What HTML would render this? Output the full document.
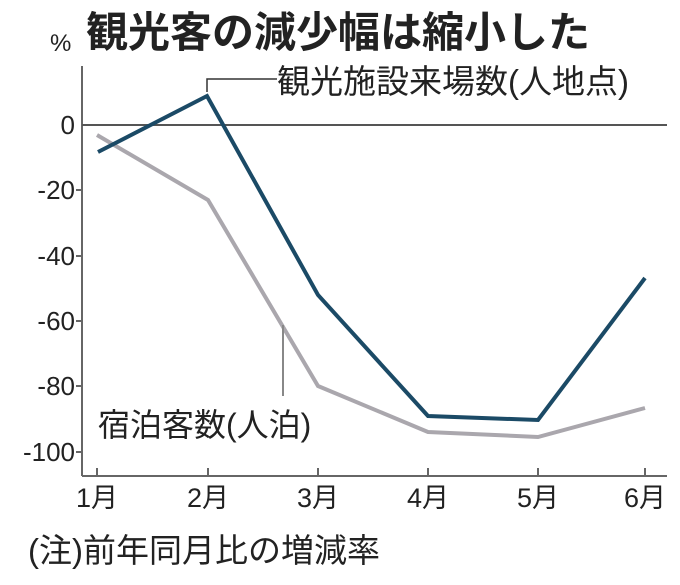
<!DOCTYPE html>
<html><head><meta charset="utf-8"><style>
html,body{margin:0;padding:0;background:#fff;}
svg{display:block;}
text{font-family:"Liberation Sans","Noto Sans CJK JP",sans-serif;fill:#222;}
</style></head><body>
<svg width="680" height="585" viewBox="0 0 680 585">
<text x="86" y="47" font-size="42" font-weight="bold" fill="#111">観光客の減少幅は縮小した</text>
<text x="50" y="51" font-size="24">%</text>
<line x1="82" y1="66" x2="82" y2="476" stroke="#666" stroke-width="2"/>
<line x1="82" y1="476" x2="667" y2="476" stroke="#666" stroke-width="2"/>
<line x1="82" y1="125" x2="667" y2="125" stroke="#555" stroke-width="2"/>
<g stroke="#666" stroke-width="2">
<line x1="76" y1="190" x2="82" y2="190"/><line x1="76" y1="256" x2="82" y2="256"/>
<line x1="76" y1="321" x2="82" y2="321"/><line x1="76" y1="386" x2="82" y2="386"/>
<line x1="76" y1="452" x2="82" y2="452"/>
<line x1="97" y1="468" x2="97" y2="476"/><line x1="208" y1="468" x2="208" y2="476"/>
<line x1="318" y1="468" x2="318" y2="476"/><line x1="428" y1="468" x2="428" y2="476"/>
<line x1="538" y1="468" x2="538" y2="476"/><line x1="645" y1="468" x2="645" y2="476"/>
</g>
<g font-size="26" text-anchor="end">
<text x="75" y="134">0</text><text x="75" y="199">-20</text><text x="75" y="265">-40</text>
<text x="75" y="330">-60</text><text x="75" y="395">-80</text><text x="75" y="461">-100</text>
</g>
<g font-size="27" text-anchor="middle">
<text x="97" y="507">1月</text><text x="208" y="507">2月</text><text x="318" y="507">3月</text>
<text x="428" y="507">4月</text><text x="538" y="507">5月</text><text x="645" y="507">6月</text>
</g>
<polyline points="97,135 208,200 318,386 428,432 538,437 645,408" fill="none" stroke="#aaa7ad" stroke-width="4"/>
<polyline points="98,152 207,96 318,295 428,416 538,420 645,278" fill="none" stroke="#1b4a66" stroke-width="4"/>
<polyline points="207,92 207,79 277,79" fill="none" stroke="#333" stroke-width="1.5"/>
<line x1="283" y1="325" x2="283" y2="396" stroke="#888" stroke-width="2"/>
<text x="277" y="93" font-size="33">観光施設来場数(人地点)</text>
<text x="98" y="436" font-size="32">宿泊客数(人泊)</text>
<text x="28" y="562" font-size="33">(注)前年同月比の増減率</text>
</svg>
</body></html>
